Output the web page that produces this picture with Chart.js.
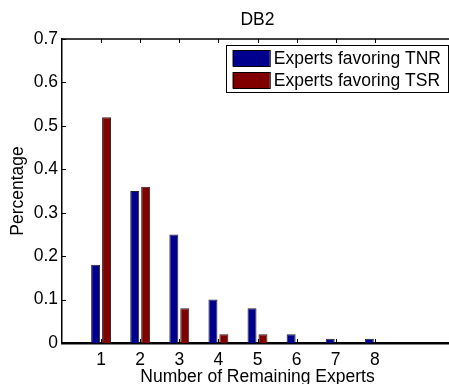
<!DOCTYPE html>
<html>
<head>
<meta charset="utf-8">
<script src="https://cdn.jsdelivr.net/npm/chart.js@4.4.1/dist/chart.umd.min.js"></script>
<style>
html, body { margin: 0; padding: 0; background: #fff; overflow: hidden; }
#wrap { width: 460px; height: 388px; }
</style>
</head>
<body>
<div id="wrap"><canvas id="chart" width="460" height="388"></canvas></div>
<script>
const categories = ['1', '2', '3', '4', '5', '6', '7', '8'];
const tnrValues = [0.18, 0.35, 0.25, 0.10, 0.08, 0.02, 0.01, 0.01];
const tsrValues = [0.52, 0.36, 0.08, 0.02, 0.02, 0, 0, 0];
const seriesNames = ['Experts favoring TNR', 'Experts favoring TSR'];
const seriesColors = ['#00008f', '#800000'];
const chartTitle = 'DB2';
const xTitle = 'Number of Remaining Experts';
const yTitle = 'Percentage';

const FONT = 'Liberation Sans, Arial, Helvetica, sans-serif';
const FSIZE = 17.5;

// the x axis runs 0..10 like the matlab plot, bars sit on 1..8
const labels = [''].concat(categories, ['', '']);
function pad(arr) { return [null].concat(arr, [null, null]); }

Chart.defaults.font.family = FONT;
Chart.defaults.font.size = FSIZE;
Chart.defaults.color = '#000';

// top frame line, inward ticks, title and the boxed legend
const matlabFrame = {
    id: 'matlabFrame',
    afterDraw(chart) {
        const ctx = chart.ctx;
        const a = chart.chartArea;
        const xs = chart.scales.x, ys = chart.scales.y;
        ctx.save();
        ctx.strokeStyle = '#000';
        ctx.lineWidth = 1.5;
        ctx.beginPath();
        ctx.moveTo(a.left, a.top);
        ctx.lineTo(a.right, a.top);
        ctx.stroke();

        ctx.lineWidth = 1;
        ctx.beginPath();
        labels.forEach(function(l, i) {
            if (l === '') return;
            const px = Math.round(xs.getPixelForValue(i)) + 0.5;
            ctx.moveTo(px, a.top); ctx.lineTo(px, a.top + 4);
            ctx.moveTo(px, a.bottom); ctx.lineTo(px, a.bottom - 4);
        });
        ys.ticks.forEach(function(t) {
            const py = Math.round(ys.getPixelForValue(t.value)) + 0.5;
            ctx.moveTo(a.left, py); ctx.lineTo(a.left + 4, py);
        });
        ctx.stroke();

        ctx.fillStyle = '#000';
        ctx.font = FSIZE + 'px ' + FONT;
        ctx.textAlign = 'center';
        ctx.textBaseline = 'middle';
        ctx.fillText(chartTitle, (a.left + a.right) / 2, 20);

        // legend box
        const ds = chart.data.datasets;
        let tw = 0;
        ds.forEach(function(d) { tw = Math.max(tw, ctx.measureText(d.label).width); });
        const boxRight = a.right - 5;
        const boxTop = a.top + 6;
        const boxW = 7 + 37 + 4 + tw + 7;
        const boxH = 47;
        const boxLeft = boxRight - boxW;
        ctx.fillStyle = '#fff';
        ctx.fillRect(boxLeft, boxTop, boxW, boxH);
        ctx.lineWidth = 1;
        ctx.strokeRect(Math.round(boxLeft) + 0.5, boxTop + 0.5, Math.round(boxW), boxH);
        ctx.textAlign = 'left';
        ds.forEach(function(d, i) {
            const cy = boxTop + 13 + i * 22;
            ctx.fillStyle = d.backgroundColor;
            ctx.fillRect(boxLeft + 7, cy - 8, 37, 16);
            ctx.strokeStyle = '#000';
            ctx.strokeRect(boxLeft + 7.5, cy - 7.5, 37, 16);
            ctx.fillStyle = '#000';
            ctx.fillText(d.label, boxLeft + 48, cy + 1);
        });
        ctx.restore();
    }
};

new Chart(document.getElementById('chart'), {
    type: 'bar',
    data: {
        labels: labels,
        datasets: [
            { label: seriesNames[0], data: pad(tnrValues), backgroundColor: seriesColors[0],
              borderColor: '#222', borderWidth: 1 },
            { label: seriesNames[1], data: pad(tsrValues), backgroundColor: seriesColors[1],
              borderColor: '#222', borderWidth: 1 }
        ]
    },
    options: {
        responsive: false,
        animation: false,
        categoryPercentage: 0.56,
        barPercentage: 0.82,
        layout: { padding: { left: 0, right: 7, top: 39, bottom: 0 } },
        plugins: {
            legend: { display: false },
            tooltip: { enabled: false }
        },
        scales: {
            x: {
                type: 'category',
                offset: false,
                grid: { display: false, drawTicks: false },
                border: { display: true, color: '#000', width: 2.5 },
                ticks: { autoSkip: false, maxRotation: 0, padding: 7 },
                title: { display: true, text: xTitle, padding: { top: 0, bottom: 0 } },
                afterFit: function(s) { s.height = 45; }
            },
            y: {
                min: 0,
                max: 0.7,
                grid: { display: false, drawTicks: false },
                border: { display: true, color: '#000', width: 1.5 },
                ticks: { stepSize: 0.1, padding: 4 },
                title: { display: true, text: yTitle, padding: { top: 8, bottom: 0 } },
                afterFit: function(s) { s.width = 62; }
            }
        }
    },
    plugins: [matlabFrame]
});
</script>
</body>
</html>
